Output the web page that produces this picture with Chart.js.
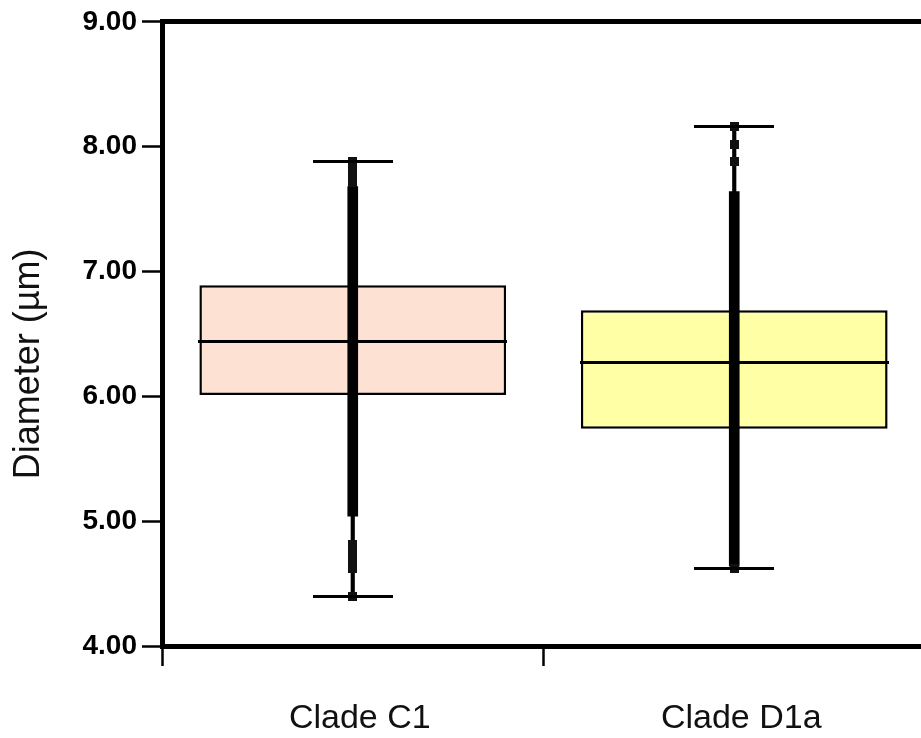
<!DOCTYPE html>
<html>
<head>
<meta charset="utf-8">
<script src="https://cdn.jsdelivr.net/npm/chart.js@4"></script>
<style>
  html, body { margin: 0; padding: 0; background: #fff; overflow: hidden; }
  #wrap { width: 921px; height: 738px; overflow: hidden; }
</style>
</head>
<body>
<div id="wrap"><canvas id="boxChart" width="930" height="738"></canvas></div>
<script>
// categories
const clades = ["Clade C1", "Clade D1a"];
// box statistics (µm)
const q1 = [6.01, 5.74];
const q3 = [6.89, 6.69];
const medians = [6.44, 6.27];
const whiskerMin = [4.40, 4.62];
const whiskerMax = [7.88, 8.16];
// range where the individual measurements overlap into a solid strip
const denseLow = [5.04, 4.64];
const denseHigh = [7.68, 7.64];
// separate measurements outside the solid strip
const pointsC1 = [7.88, 7.84, 7.80, 7.75, 7.71, 4.81, 4.76, 4.71, 4.66, 4.62, 4.40];
const pointsD1a = [8.16, 8.02, 7.88, 4.62];
const boxColors = ["#fde1d3", "#ffffa6"];
const yTicks = [4, 5, 6, 7, 8, 9];

const font = "'Liberation Sans', Arial, sans-serif";

// small bitmaps used as point markers (keeps the layout from reserving room for big radii)
function marker(w, h, color) {
  const c = document.createElement("canvas");
  c.width = w;
  c.height = h;
  const g = c.getContext("2d");
  g.fillStyle = color;
  g.fillRect(0, 0, w, h);
  return c;
}
const medianMark = marker(309, 3, "#000");
const capMark = marker(80, 3, "#000");
const dotMark = marker(9, 9, "#111");

const scatterPts = [];
pointsC1.forEach(v => scatterPts.push({ x: clades[0], y: v }));
pointsD1a.forEach(v => scatterPts.push({ x: clades[1], y: v }));

const capPts = [];
clades.forEach((c, i) => {
  capPts.push({ x: c, y: whiskerMin[i] });
  capPts.push({ x: c, y: whiskerMax[i] });
});

const ctx = document.getElementById("boxChart").getContext("2d");
new Chart(ctx, {
  type: "bar",
  data: {
    labels: clades,
    datasets: [
      {
        // median lines
        type: "line",
        data: medians,
        showLine: false,
        pointStyle: medianMark,
        pointRadius: 1,
        order: 1
      },
      {
        // whisker caps
        type: "line",
        data: capPts,
        showLine: false,
        pointStyle: capMark,
        pointRadius: 1,
        order: 2
      },
      {
        // single measurements
        type: "line",
        data: scatterPts,
        showLine: false,
        pointStyle: dotMark,
        pointRadius: 1,
        order: 3
      },
      {
        // solid strip of overlapping measurements
        data: clades.map((c, i) => [denseLow[i], denseHigh[i]]),
        backgroundColor: "#000",
        barThickness: 10,
        grouped: false,
        order: 4
      },
      {
        // whiskers
        data: clades.map((c, i) => [whiskerMin[i], whiskerMax[i]]),
        backgroundColor: "#000",
        barThickness: 3.5,
        grouped: false,
        order: 5
      },
      {
        // boxes
        data: clades.map((c, i) => [q1[i], q3[i]]),
        backgroundColor: boxColors,
        borderColor: "#000",
        borderWidth: 2.5,
        borderSkipped: false,
        barPercentage: 0.804,
        categoryPercentage: 1,
        grouped: false,
        order: 6
      }
    ]
  },
  options: {
    responsive: false,
    animation: false,
    layout: { padding: { left: 5, top: 20, right: 0, bottom: 0 } },
    plugins: {
      legend: { display: false },
      tooltip: { enabled: false }
    },
    scales: {
      x: {
        offset: true,
        afterFit: s => { s.height = 92; },
        grid: {
          offset: true,
          drawOnChartArea: false,
          tickLength: 20,
          tickWidth: 2.5,
          tickColor: "#000"
        },
        border: { display: true, width: 5, color: "#000" },
        ticks: {
          color: "#111",
          padding: 32,
          labelOffset: 7,
          font: { family: font, size: 34 }
        }
      },
      y: {
        min: 4,
        max: 9,
        afterBuildTicks: s => { s.ticks = yTicks.map(v => ({ value: v })); },
        afterFit: s => { s.width = 157; },
        grid: {
          drawOnChartArea: true,
          color: c => (c.tick && c.tick.value === 9 ? "#000" : "rgba(0,0,0,0)"),
          lineWidth: c => (c.tick && c.tick.value === 9 ? 5 : 1),
          tickLength: 20,
          tickWidth: 2.5,
          tickColor: "#000"
        },
        border: { display: true, width: 5, color: "#000" },
        ticks: {
          color: "#000",
          padding: 5,
          font: { family: font, size: 28, weight: "bold" },
          callback: v => Number(v).toFixed(2)
        },
        title: {
          display: true,
          // trailing spaces nudge the centred title down, as in the original
          text: "Diameter (µm)      ",
          color: "#111",
          padding: { top: 2, bottom: 4 },
          font: { family: font, size: 36 }
        }
      }
    }
  }
});
</script>
</body>
</html>
